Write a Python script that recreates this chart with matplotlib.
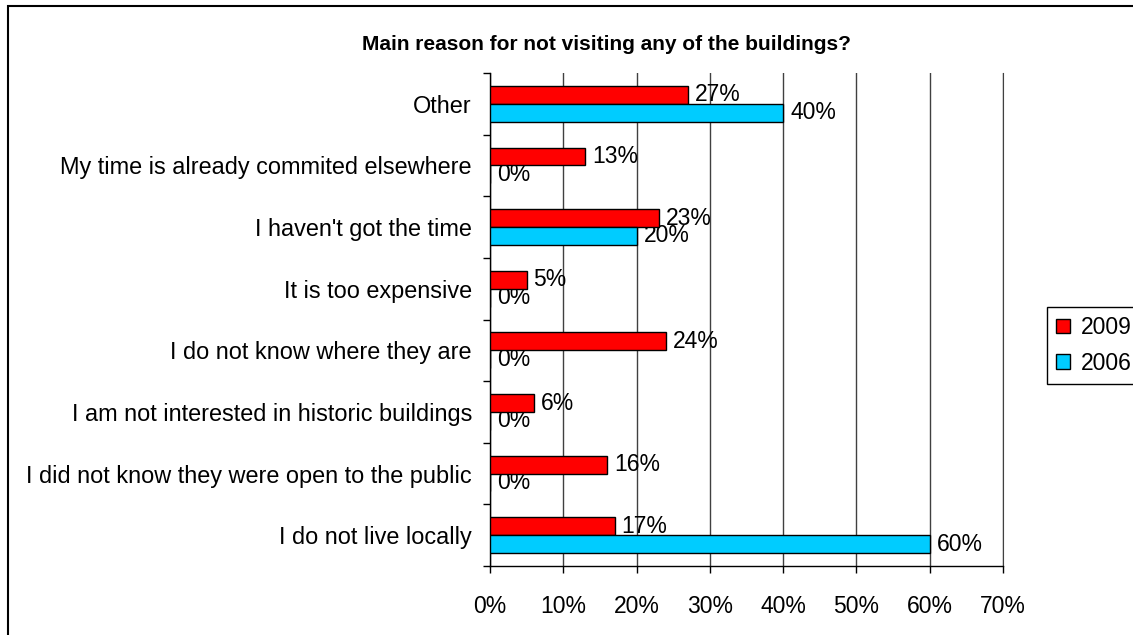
import matplotlib.pyplot as plt
import matplotlib.patches as mpatches
import numpy as np

plt.rcParams['font.family'] = ['Liberation Sans', 'DejaVu Sans']

# reasons listed bottom to top
reasons = [
    "I do not live locally",
    "I did not know they were open to the public",
    "I am not interested in historic buildings",
    "I do not know where they are",
    "It is too expensive",
    "I haven't got the time",
    "My time is already commited elsewhere",
    "Other",
]
share_2009 = [0.17, 0.16, 0.06, 0.24, 0.05, 0.23, 0.13, 0.27]
share_2006 = [0.60, 0.00, 0.00, 0.00, 0.00, 0.20, 0.00, 0.40]
x_ticks = [0.0, 0.1, 0.2, 0.3, 0.4, 0.5, 0.6, 0.7]

FS = 16.5
W, H = 1133, 635
fig = plt.figure(figsize=(W / 100, H / 100), dpi=100)
ax = fig.add_axes([490 / W, 1 - 566 / H, 513 / W, 493 / H])

y = np.arange(len(reasons))
bh = 0.29
bars_09 = ax.barh(y + bh / 2, share_2009, height=bh, color='#ff0000',
                  edgecolor='black', linewidth=1, zorder=3, label='2009')
bars_06 = ax.barh(y - bh / 2, share_2006, height=bh, color='#00ccff',
                  edgecolor='black', linewidth=1, zorder=3, label='2006')

# value labels sit under the bars so the next bar can cover them
for yy, v in zip(y + bh / 2, share_2009):
    ax.annotate(f"{v * 100:.0f}%", (v, yy), xytext=(5, 0), textcoords='offset points',
                va='center', ha='left', fontsize=FS, zorder=2)
for yy, v in zip(y - bh / 2, share_2006):
    ax.annotate(f"{v * 100:.0f}%", (v, yy), xytext=(5, 0), textcoords='offset points',
                va='center', ha='left', fontsize=FS, zorder=2)

ax.set_xlim(0, 0.7)
ax.set_ylim(-0.5, len(reasons) - 0.5)
ax.set_xticks(x_ticks)
ax.set_xticklabels([f"{t * 100:.0f}%" for t in x_ticks], fontsize=FS)
ax.set_yticks(y)
ax.set_yticklabels(reasons, fontsize=16.9)
ax.set_yticks(np.arange(-0.5, len(reasons)), minor=True)
ax.tick_params(axis='y', which='major', length=0, pad=13)
ax.tick_params(axis='y', which='minor', length=5, direction='out', width=1)
ax.tick_params(axis='x', length=5, direction='out', width=1, pad=16)

ax.grid(axis='x', color='#404040', linewidth=1, zorder=0)
ax.set_axisbelow(True)
ax.spines['top'].set_visible(False)
ax.spines['right'].set_color('#404040')
for s in ['left', 'bottom']:
    ax.spines[s].set_linewidth(1)

fig.text(606 / W, 1 - 45 / H, "Main reason for not visiting any of the buildings?",
         ha='center', va='center', fontsize=15, fontweight='bold')

leg = fig.legend(handles=[bars_09, bars_06], loc='upper left',
                 bbox_to_anchor=(1047 / W, 1 - 307 / H), fontsize=FS,
                 fancybox=False, edgecolor='black', framealpha=1,
                 handlelength=0.6, handleheight=0.6, handletextpad=0.5,
                 borderpad=0.4, labelspacing=0.55, borderaxespad=0)
leg.get_frame().set_linewidth(1)

fig.patches.append(mpatches.Rectangle((8 / W, -0.02), 1.1, 1 - 6 / H + 0.02,
                                      transform=fig.transFigure, fill=False,
                                      edgecolor='black', linewidth=1.5))

fig.savefig('out.png', dpi=100)
